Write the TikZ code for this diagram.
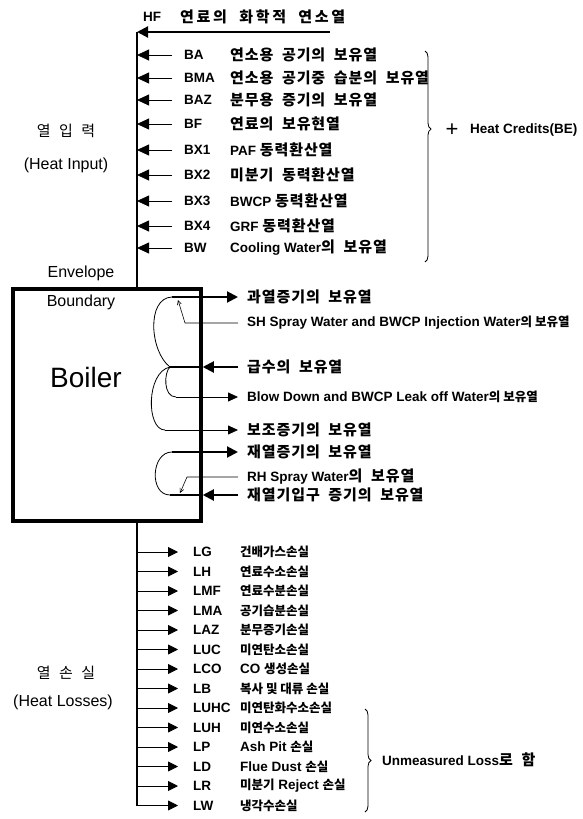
\documentclass[tikz,border=0pt]{standalone}
\usepackage{fontspec}
\setmainfont{Liberation Sans}
\newfontfamily\kr{Noto Sans CJK KR}[LetterSpace=6,WordSpace=2]
\newfontfamily\krn{Noto Sans CJK KR}
\newcommand{\ks}{\krn\fontsize{12.5}{15}\selectfont}
\usetikzlibrary{arrows.meta,decorations.pathreplacing}

\tikzset{
  lbl/.style={anchor=west, inner sep=0pt, font=\fontsize{13.5}{16}\selectfont\bfseries},
  side/.style={inner sep=0pt, font=\fontsize{16}{19}\selectfont},
  trunk/.style={line width=2pt},
  heavy/.style={line width=2pt},
  light/.style={line width=0.8pt},
  feed/.style={line width=0.8pt, -{Triangle[length=12pt,width=11pt]}},
  loss/.style={line width=0.8pt, -{Triangle[length=10pt,width=10pt]}},
  bighead/.style={-{Triangle[length=11pt,width=11pt]}},
  smallhead/.style={-{Triangle[length=10pt,width=9pt]}},
  barb/.style={line width=0.6pt, -{Straight Barb[length=4pt,width=4pt]}},
  grp/.style={line width=0.8pt, decorate, decoration={brace, amplitude=6pt, aspect=#1}},
}

\begin{document}
\begin{tikzpicture}[x=1pt, y=-1pt]
    \useasboundingbox (0,0) rectangle (583,819);

    % Boiler
    \node[draw, line width=3.5pt, minimum width=188pt, minimum height=232pt, inner sep=0pt] (boiler) at (107,405) {};
    \node[inner sep=0pt, font=\fontsize{28}{32}\selectfont] (boilertxt) at (86,377) {Boiler};
    \node[side] (envelope) at (81,273) {Envelope};
    \node[side] (boundary) at (81,302) {Boundary};

    % Heat input
    \coordinate (top) at (137,32);
    \coordinate (hf-src) at (330,32);
    \node[lbl, anchor=center] (HF) at (152,17) {HF};
    \node[lbl] (HF-t) at (180,17) {{\kr\fontsize{15}{18}\selectfont\addfontfeature{LetterSpace=18} 연료의 화학적 연소열}};
    \draw[trunk] (top) -- (top |- boiler.north);
    \draw[heavy, bighead] (hf-src) -- (top);

    \node[lbl] (BA) at (184,55) {BA};
    \node[lbl] (BA-t) at (230,55) {{\kr\fontsize{15}{18}\selectfont 연소용 공기의 보유열}};
    \node[lbl] (BMA) at (184,78) {BMA};
    \node[lbl] (BMA-t) at (230,78) {{\kr\fontsize{15}{18}\selectfont 연소용 공기중 습분의 보유열}};
    \node[lbl] (BAZ) at (184,100) {BAZ};
    \node[lbl] (BAZ-t) at (230,100) {{\kr\fontsize{15}{18}\selectfont 분무용 증기의 보유열}};
    \node[lbl] (BF) at (184,124) {BF};
    \node[lbl] (BF-t) at (230,124) {{\kr\fontsize{15}{18}\selectfont 연료의 보유현열}};
    \node[lbl] (BX1) at (184,150) {BX1};
    \node[lbl] (BX1-t) at (230,150) {PAF {\kr\fontsize{15}{18}\selectfont 동력환산열}};
    \node[lbl] (BX2) at (184,175) {BX2};
    \node[lbl] (BX2-t) at (230,175) {{\kr\fontsize{15}{18}\selectfont 미분기 동력환산열}};
    \node[lbl] (BX3) at (184,201) {BX3};
    \node[lbl] (BX3-t) at (230,201) {BWCP {\kr\fontsize{15}{18}\selectfont 동력환산열}};
    \node[lbl] (BX4) at (184,226) {BX4};
    \node[lbl] (BX4-t) at (230,226) {GRF {\kr\fontsize{15}{18}\selectfont 동력환산열}};
    \node[lbl] (BW) at (184,248) {BW};
    \node[lbl] (BW-t) at (230,248) {Cooling Water{\kr\fontsize{15}{18}\selectfont 의 보유열}};

    \draw[feed] ([xshift=-12pt]BA.west) -- (BA.west -| top);
    \draw[feed] ([xshift=-12pt]BMA.west) -- (BMA.west -| top);
    \draw[feed] ([xshift=-12pt]BAZ.west) -- (BAZ.west -| top);
    \draw[feed] ([xshift=-12pt]BF.west) -- (BF.west -| top);
    \draw[feed] ([xshift=-12pt]BX1.west) -- (BX1.west -| top);
    \draw[feed] ([xshift=-12pt]BX2.west) -- (BX2.west -| top);
    \draw[feed] ([xshift=-12pt]BX3.west) -- (BX3.west -| top);
    \draw[feed] ([xshift=-12pt]BX4.west) -- (BX4.west -| top);
    \draw[feed] ([xshift=-12pt]BW.west) -- (BW.west -| top);

    \coordinate (cred-top) at (425,51);
    \coordinate (cred-bot) at (425,262);
    \draw[grp=0.37] (cred-top) -- (cred-bot);
    \node[inner sep=0pt, font=\fontsize{22}{24}\selectfont] (plus) at (452,130) {+};
    \node[lbl] (credits) at (470,130) {Heat Credits(BE)};

    \node[side] (in-ko) at (66,131) {{\kr\fontsize{15}{17}\selectfont 열 입 력}};
    \node[side] (in-en) at (66,165) {(Heat Input)};

    % Steam and water flows
    \node[lbl] (sh) at (247,297) {{\kr\fontsize{15}{18}\selectfont 과열증기의 보유열}};
    \coordinate (sh-src) at (172,297);
    \draw[heavy, bighead] (sh-src) -- ([xshift=-9pt]sh.west);

    \node[lbl] (shs) at (247,323) {SH Spray Water and BWCP Injection Water{\ks 의 보유열}};
    \coordinate (shs-bend) at (185,323);
    \coordinate (shs-mix) at (178,300);
    \draw[barb] ([xshift=-9pt]shs.west) -- (shs-bend) -- (shs-mix);

    \node[lbl] (fw) at (247,367) {{\kr\fontsize{15}{18}\selectfont 급수의 보유열}};
    \coordinate (fw-j) at (170,367);
    \draw[heavy, bighead] ([xshift=-9pt]fw.west) -- (fw -| boiler.east);
    \draw[heavy] (fw -| boiler.east) -- (fw-j);
    \draw[light] (sh-src) .. controls (146,298) and (150,352) .. (fw-j);

    \node[lbl] (bd) at (247,397) {Blow Down and BWCP Leak off Water{\ks 의 보유열}};
    \coordinate (bd-src) at (176,397);
    \draw[light] (fw-j) .. controls (164,372) and (163,397) .. (bd-src);
    \draw[light, smallhead] (bd-src) -- ([xshift=-9pt]bd.west);

    \node[lbl] (aux) at (247,430) {{\kr\fontsize{15}{18}\selectfont 보조증기의 보유열}};
    \coordinate (aux-src) at (165,430);
    \draw[light] (fw-j) .. controls (146,372) and (146,430) .. (aux-src);
    \draw[light, smallhead] (aux-src) -- ([xshift=-9pt]aux.west);

    \node[lbl] (rh) at (247,452) {{\kr\fontsize{15}{18}\selectfont 재열증기의 보유열}};
    \coordinate (rh-src) at (172,452);
    \draw[heavy, bighead] (rh-src) -- ([xshift=-9pt]rh.west);

    \node[lbl] (rhs) at (247,477) {RH Spray Water{\kr\fontsize{15}{18}\selectfont 의 보유열}};
    \coordinate (rhs-bend) at (187,477);
    \coordinate (rhs-mix) at (180,493);
    \draw[barb] ([xshift=-9pt]rhs.west) -- (rhs-bend) -- (rhs-mix);

    \node[lbl] (cr) at (247,495) {{\kr\fontsize{15}{18}\selectfont 재열기입구 증기의 보유열}};
    \coordinate (cr-j) at (170,495);
    \draw[heavy, bighead] ([xshift=-9pt]cr.west) -- (cr -| boiler.east);
    \draw[heavy] (cr -| boiler.east) -- (cr-j);
    \draw[light] (rh-src) .. controls (151,452) and (149,495) .. (cr-j);

    % Heat losses
    \node[lbl] (LG) at (193,552) {LG};
    \node[lbl] (LG-t) at (240,552) {{\ks 건배가스손실}};
    \node[lbl] (LH) at (193,571.5) {LH};
    \node[lbl] (LH-t) at (240,571.5) {{\ks 연료수소손실}};
    \node[lbl] (LMF) at (193,591) {LMF};
    \node[lbl] (LMF-t) at (240,591) {{\ks 연료수분손실}};
    \node[lbl] (LMA) at (193,610.5) {LMA};
    \node[lbl] (LMA-t) at (240,610.5) {{\ks 공기습분손실}};
    \node[lbl] (LAZ) at (193,630) {LAZ};
    \node[lbl] (LAZ-t) at (240,630) {{\ks 분무증기손실}};
    \node[lbl] (LUC) at (193,649.5) {LUC};
    \node[lbl] (LUC-t) at (240,649.5) {{\ks 미연탄소손실}};
    \node[lbl] (LCO) at (193,669) {LCO};
    \node[lbl] (LCO-t) at (240,669) {CO {\ks 생성손실}};
    \node[lbl] (LB) at (193,688.5) {LB};
    \node[lbl] (LB-t) at (240,688.5) {{\ks 복사 및 대류 손실}};
    \node[lbl] (LUHC) at (193,708) {LUHC};
    \node[lbl] (LUHC-t) at (240,708) {{\ks 미연탄화수소손실}};
    \node[lbl] (LUH) at (193,727.5) {LUH};
    \node[lbl] (LUH-t) at (240,727.5) {{\ks 미연수소손실}};
    \node[lbl] (LP) at (193,747) {LP};
    \node[lbl] (LP-t) at (240,747) {Ash Pit {\ks 손실}};
    \node[lbl] (LD) at (193,766.5) {LD};
    \node[lbl] (LD-t) at (240,766.5) {Flue Dust {\ks 손실}};
    \node[lbl] (LR) at (193,786) {LR};
    \node[lbl] (LR-t) at (240,786) {{\ks 미분기} Reject {\ks 손실}};
    \node[lbl] (LW) at (193,805.5) {LW};
    \node[lbl] (LW-t) at (240,805.5) {{\ks 냉각수손실}};

    \draw[trunk] (boiler.south -| top) -- (LW -| top);
    \draw[loss] (LG -| top) -- ([xshift=-15pt]LG.west);
    \draw[loss] (LH -| top) -- ([xshift=-15pt]LH.west);
    \draw[loss] (LMF -| top) -- ([xshift=-15pt]LMF.west);
    \draw[loss] (LMA -| top) -- ([xshift=-15pt]LMA.west);
    \draw[loss] (LAZ -| top) -- ([xshift=-15pt]LAZ.west);
    \draw[loss] (LUC -| top) -- ([xshift=-15pt]LUC.west);
    \draw[loss] (LCO -| top) -- ([xshift=-15pt]LCO.west);
    \draw[loss] (LB -| top) -- ([xshift=-15pt]LB.west);
    \draw[loss] (LUHC -| top) -- ([xshift=-15pt]LUHC.west);
    \draw[loss] (LUH -| top) -- ([xshift=-15pt]LUH.west);
    \draw[loss] (LP -| top) -- ([xshift=-15pt]LP.west);
    \draw[loss] (LD -| top) -- ([xshift=-15pt]LD.west);
    \draw[loss] (LR -| top) -- ([xshift=-15pt]LR.west);
    \draw[loss] (LW -| top) -- ([xshift=-15pt]LW.west);

    \coordinate (unm-top) at (365,709);
    \coordinate (unm-bot) at (365,812);
    \draw[grp=0.5] (unm-top) -- (unm-bot);
    \node[lbl] (unmeasured) at (382,760) {Unmeasured Loss{\kr\fontsize{15}{18}\selectfont 로 함}};

    \node[side] (out-ko) at (66,673) {{\kr\fontsize{15}{17}\selectfont 열 손 실}};
    \node[side] (out-en) at (63,702) {(Heat Losses)};
\end{tikzpicture}
\end{document}
